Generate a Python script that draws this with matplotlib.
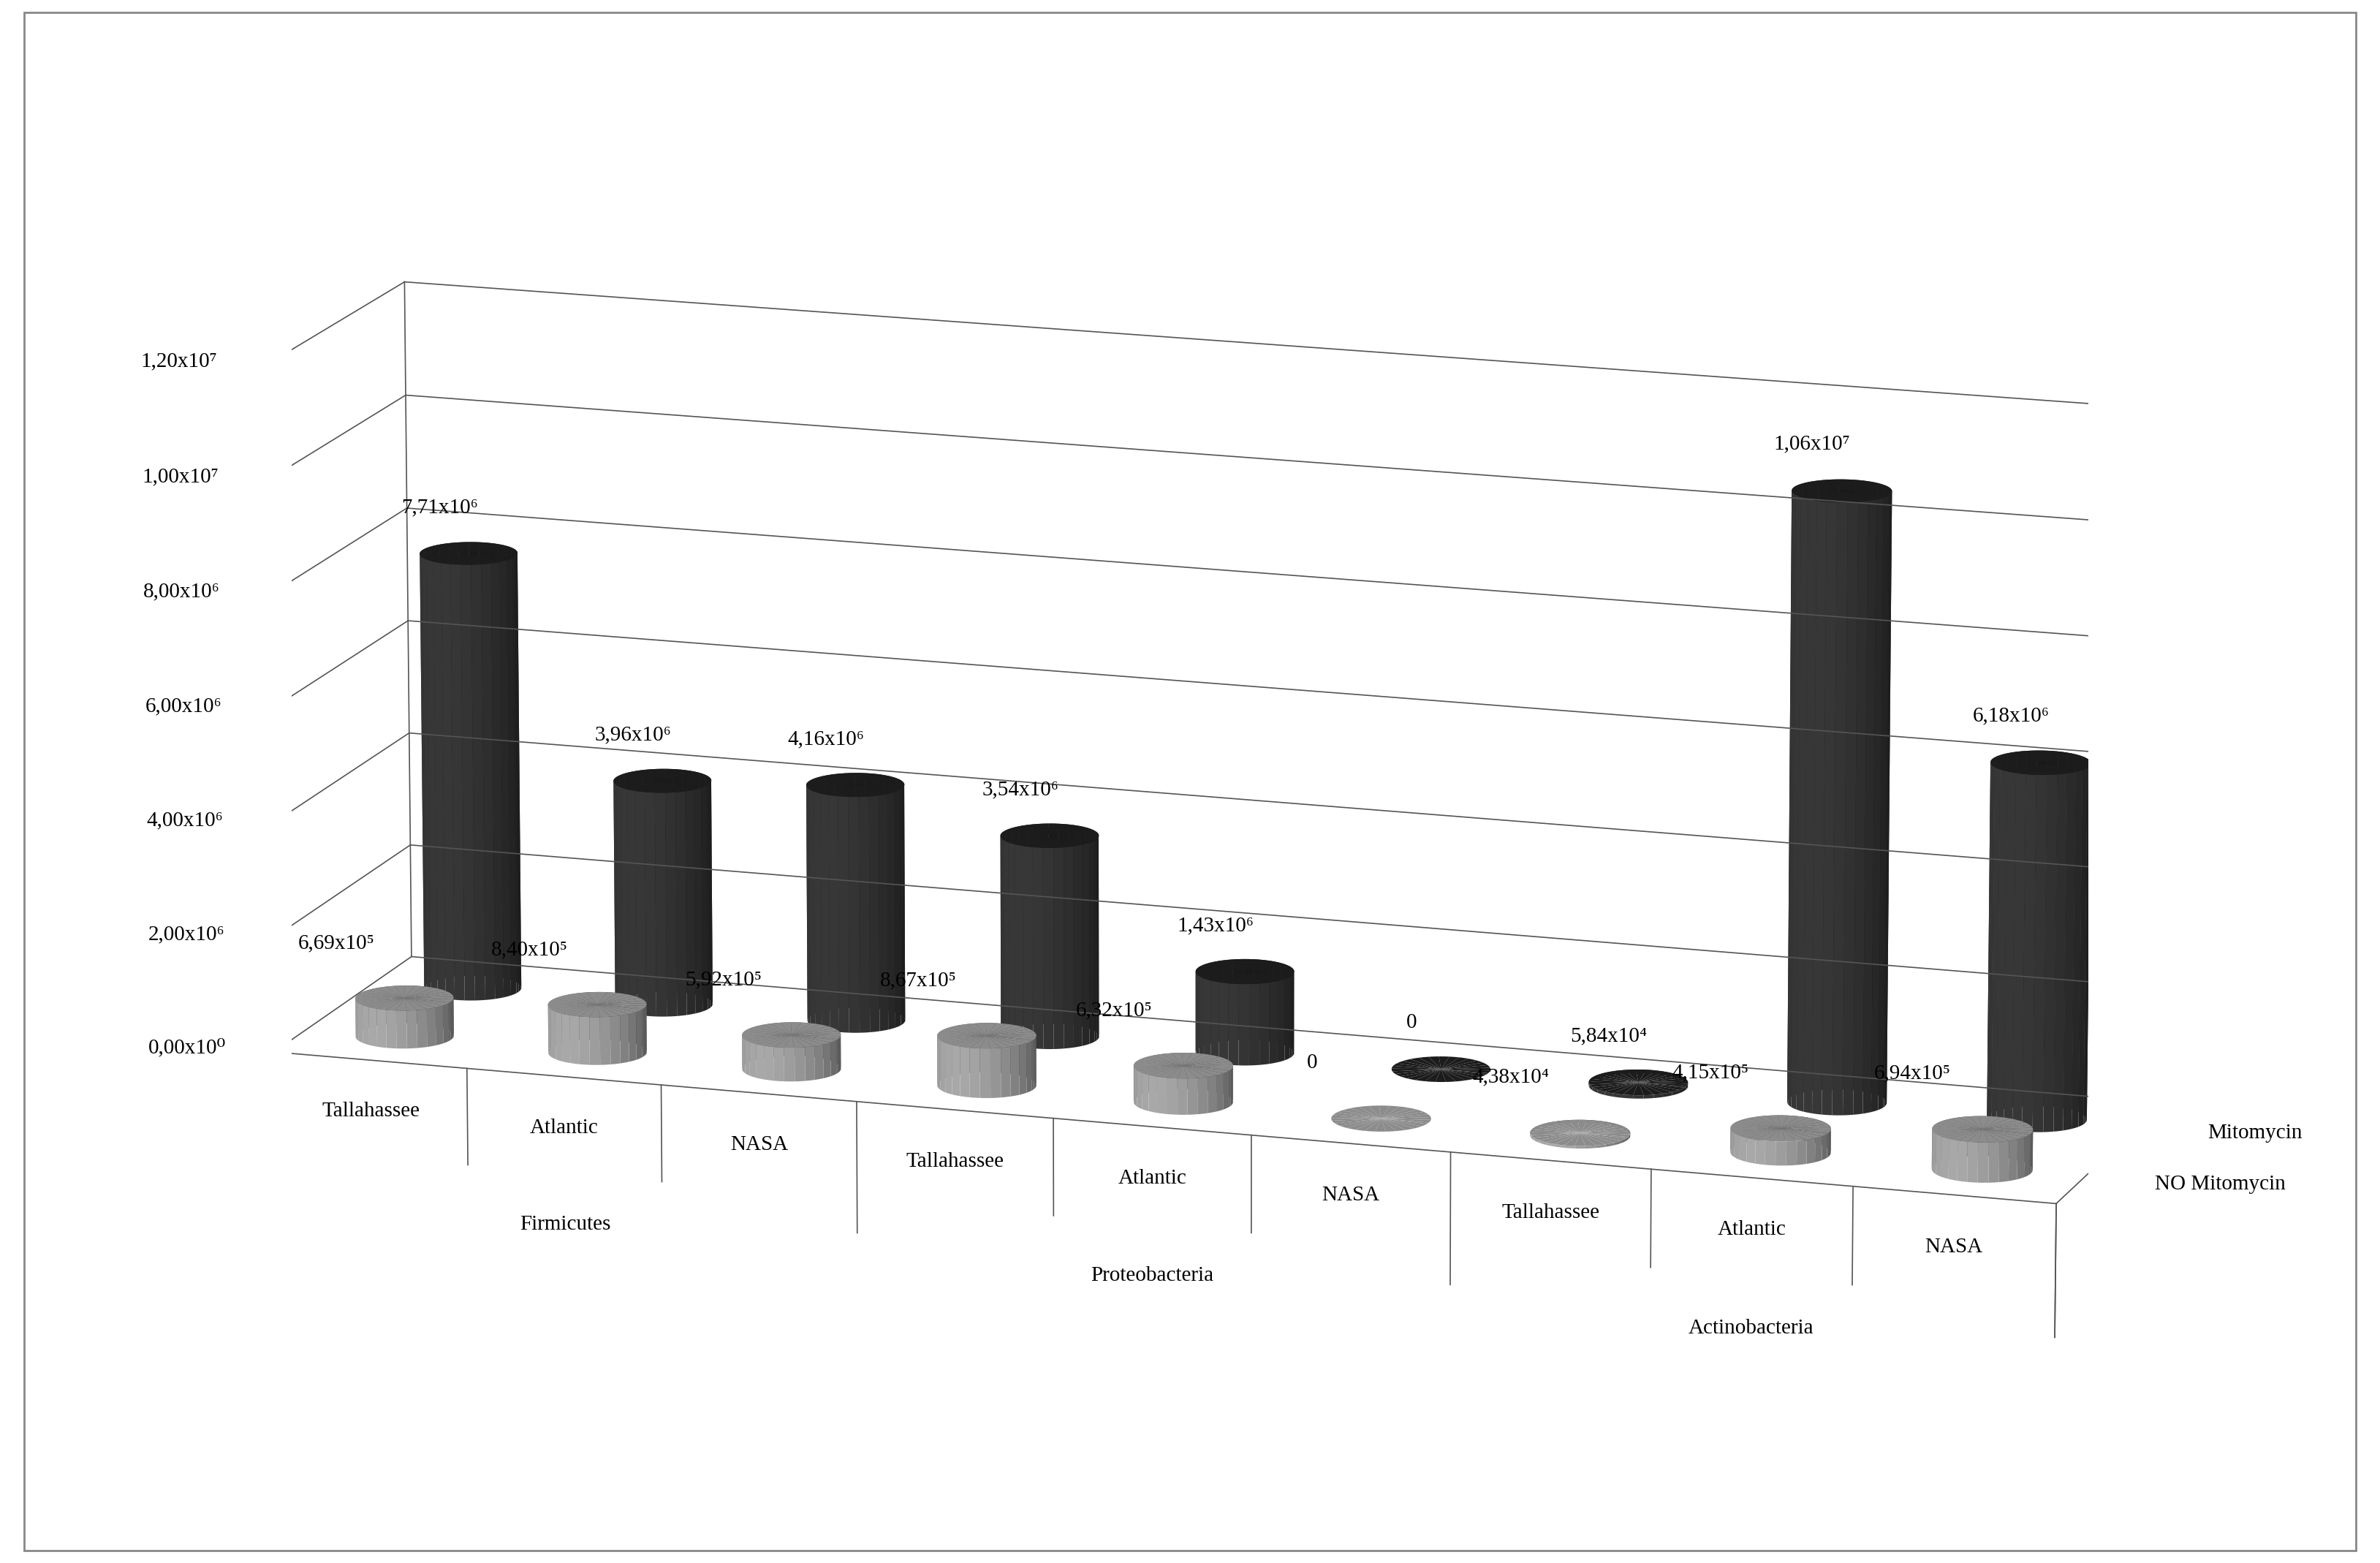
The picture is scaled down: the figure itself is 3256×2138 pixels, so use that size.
import numpy as np
import matplotlib
matplotlib.use("Agg")
import matplotlib.pyplot as plt
from matplotlib.patches import Rectangle

plt.rcParams['font.family'] = ['Liberation Serif', 'DejaVu Serif']

locations = ["Tallahassee", "Atlantic", "NASA"] * 3
phyla = ["Firmicutes", "Proteobacteria", "Actinobacteria"]
series = ["NO Mitomycin", "Mitomycin"]
mito = [7.71e6, 3.96e6, 4.16e6, 3.54e6, 1.43e6, 0, 5.84e4, 1.06e7, 6.18e6]
nomito = [6.69e5, 8.40e5, 5.92e5, 8.67e5, 6.32e5, 0, 4.38e4, 4.15e5, 6.94e5]
mito_lbl = ["7,71x10⁶", "3,96x10⁶", "4,16x10⁶", "3,54x10⁶", "1,43x10⁶", "0", "5,84x10⁴", "1,06x10⁷", "6,18x10⁶"]
nomito_lbl = ["6,69x10⁵", "8,40x10⁵", "5,92x10⁵", "8,67x10⁵", "6,32x10⁵", "0", "4,38x10⁴", "4,15x10⁵", "6,94x10⁵"]
zticks = [0, 2e6, 4e6, 6e6, 8e6, 1e7, 1.2e7]
zlabels = ["0,00x10⁰", "2,00x10⁶", "4,00x10⁶", "6,00x10⁶", "8,00x10⁶", "1,00x10⁷", "1,20x10⁷"]

fig = plt.figure(figsize=(32.56, 21.38), dpi=100)
fig.patches.append(Rectangle((0.01, 0.008), 0.98, 0.984, transform=fig.transFigure,
                             fill=False, edgecolor='#888888', lw=2))
ax = fig.add_axes([-0.01, -0.06, 1.02, 1.15], projection='3d', computed_zorder=False)
ax.set_proj_type('persp', focal_length=2.0)
ax.view_init(elev=14, azim=-72)
ax.set_box_aspect((4.2, 0.9, 1.6), zoom=1.1)
n = len(mito)
ax.set_xlim(-0.5, n - 0.5)
ax.set_ylim(0, 2)
ax.set_zlim(0, 1.2e7)
ax.set_axis_off()

rx = 0.24
ry = rx * (4.2 / 9) / (0.9 / 2)
th = np.linspace(0, 2 * np.pi, 60)
fs = 21
ls = matplotlib.colors.LightSource(200, 30)

def cyl(x, y, h, color, topc):
    if h > 0:
        Z = np.array([[0] * len(th), [h] * len(th)])
        X = np.array([x + rx * np.cos(th)] * 2)
        Y = np.array([y + ry * np.sin(th)] * 2)
        ax.plot_surface(X, Y, Z, color=color, shade=True, lightsource=ls, linewidth=0, antialiased=True)
    r = np.linspace(0, 1, 2)
    R, T = np.meshgrid(r, th)
    ax.plot_surface(x + rx * R * np.cos(T), y + ry * R * np.sin(T), np.full_like(R, h),
                    color=topc, shade=False, linewidth=0)

gc = '#555555'
for z in zticks:
    ax.plot([-0.5, n - 0.5], [2, 2], [z, z], color=gc, lw=1.2)
    ax.plot([-0.5, -0.5], [0, 2], [z, z], color=gc, lw=1.2)
ax.plot([-0.5, -0.5], [2, 2], [0, 1.2e7], color=gc, lw=1.2)
ax.plot([-0.5, -0.5], [0, 0], [0, 1.2e7], color=gc, lw=1.2)
ax.plot([-0.5, n - 0.5], [0, 0], [0, 0], color=gc, lw=1.2)

for z, l in zip(zticks, zlabels):
    ax.text(-0.75, 0, z, l, ha='right', va='center', fontsize=fs)

for i in range(n):
    cyl(i, 1.5, mito[i], '#3a3a3a', '#1c1c1c')
    ax.text(i - 0.15, 1.5, mito[i] + 6e5, mito_lbl[i], ha='center', va='bottom', fontsize=fs)
for i in range(n):
    cyl(i, 0.5, nomito[i], '#b0b0b0', '#8c8c8c')
    ax.text(i - 0.35, 0.5, nomito[i] + 7e5, nomito_lbl[i], ha='center', va='bottom', fontsize=fs)

# category axis with vertical dividers
for k in range(n + 1):
    depth = 2.3e6 if k % 3 == 0 else 1.7e6
    ax.plot([k - 0.5, k - 0.5], [0, 0], [0, -depth], color=gc, lw=1.2)
for i, l in enumerate(locations):
    ax.text(i, 0, -0.9e6, l, ha='center', va='center', fontsize=fs)
for j, p in enumerate(phyla):
    ax.text(3 * j + 1, 0, -2.6e6, p, ha='center', va='center', fontsize=fs)

# series axis
ax.plot([n - 0.5, n - 0.5], [0, 2], [0, 0], color=gc, lw=1.2)
ax.plot([n - 0.5, n - 0.5], [0, 0], [0, -2.3e6], color=gc, lw=1.2)
for y in [1, 2]:
    ax.plot([n - 0.5, n - 0.4], [y, y], [0, 0], color=gc, lw=1.2)
ax.text(n - 0.15, 1.5, 0, series[1], ha='left', va='center', fontsize=fs)
ax.text(n - 0.15, 0.5, 0, series[0], ha='left', va='center', fontsize=fs)

fig.savefig("out.png", dpi=100)
